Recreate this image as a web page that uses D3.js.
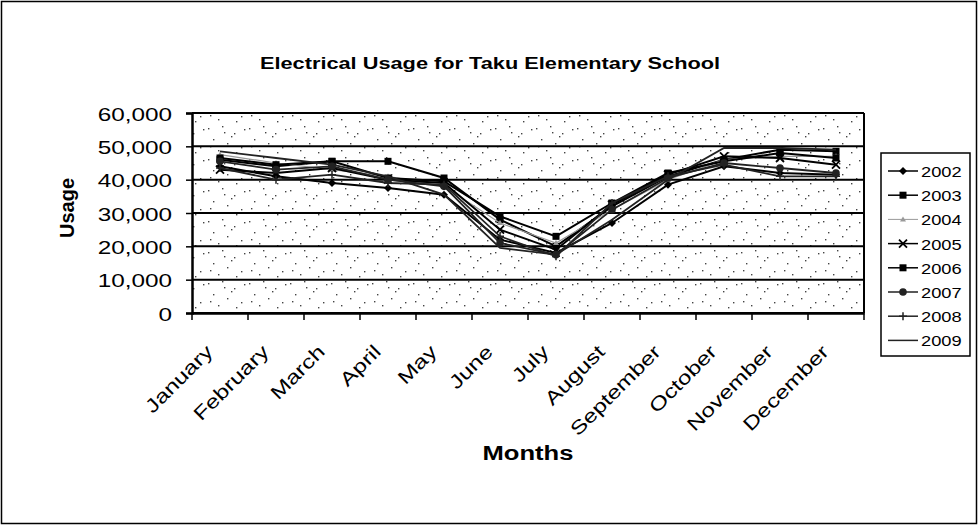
<!DOCTYPE html>
<html><head><meta charset="utf-8">
<script src="https://cdn.jsdelivr.net/npm/d3@7"></script>
<style>body{margin:0;background:#fff}svg{display:block}text{font-family:"Liberation Sans",Arial,sans-serif;fill:#000}</style>
</head><body>
<svg id="c" width="979" height="527"></svg>
<script>
const months = ["January","February","March","April","May","June","July","August","September","October","November","December"];
const years = ["2002","2003","2004","2005","2006","2007","2008","2009"];
const yTicks = [0,10000,20000,30000,40000,50000,60000];
const s2002 = [44000,41000,39000,37500,35500,22000,18000,27000,38500,44000,42000,41500];
const s2003 = [46000,44000,45500,45500,40500,28000,20000,32000,41000,46000,49000,48500];
const s2004 = [47500,45000,43000,41000,38000,27000,21000,31000,40000,46000,47000,47000];
const s2005 = [43000,42000,43500,40000,39000,25000,19000,32500,41500,47000,46500,44500];
const s2006 = [46500,44500,45500,40500,39500,29000,23000,33000,42000,45500,48000,46500];
const s2007 = [45500,43000,44000,40000,38000,21000,17500,31000,40500,45000,43500,42000];
const s2008 = [43500,40000,41500,39000,38500,23000,17000,33000,41000,44500,41000,41000];
const s2009 = [48500,46500,44500,41000,35500,19500,17500,28000,40000,49500,49500,49000];
const seriesValues = [s2002,s2003,s2004,s2005,s2006,s2007,s2008,s2009];
const markers = ["diamond","square","triangle","cross","square","circle","plus","none"];

const svg = d3.select("#c");
const L=192,R=864,T=113,B=313;
const x = d3.scaleBand().domain(months).range([L,R]);
const y = d3.scaleLinear().domain([0,60000]).range([B,T]);
const SX = 1.28;

// outer frame
svg.append("rect").attr("x",1.5).attr("y",1.5).attr("width",975).attr("height",522).attr("fill","#fff").attr("stroke","#000").attr("stroke-width",1.5);

// speckle pattern (decorative)
const defs = svg.append("defs");
const pat = defs.append("pattern").attr("id","spk").attr("patternUnits","userSpaceOnUse").attr("width",41).attr("height",31);
const dots = [[3,4],[17,2],[29,9],[8,15],[22,19],[36,23],[13,26],[31,28],[5,22],[26,12],[39,5],[19,8]];
dots.forEach(d=>pat.append("rect").attr("x",d[0]).attr("y",d[1]).attr("width",1.4).attr("height",1.4).attr("fill","#444"));
svg.append("rect").attr("x",L).attr("y",T).attr("width",R-L).attr("height",B-T).attr("fill","url(#spk)");

// gridlines
svg.append("g").selectAll("line").data(yTicks).join("line")
  .attr("x1",L).attr("x2",R).attr("y1",d=>y(d)).attr("y2",d=>y(d))
  .attr("stroke","#000").attr("stroke-width",2);
svg.append("line").attr("x1",R).attr("x2",R).attr("y1",T).attr("y2",B).attr("stroke","#000").attr("stroke-width",2);

// y axis
const ya = svg.append("g").attr("transform",`translate(${L},0)`).call(d3.axisLeft(y).tickValues(yTicks).tickSize(6).tickFormat(d3.format(",")));
ya.select(".domain").attr("stroke-width",2.5);
ya.selectAll("line").attr("stroke-width",1.5);
ya.selectAll("text").attr("font-size",19).attr("x",null).attr("dy",null).attr("text-anchor","end")
  .attr("transform",`translate(-20,7) scale(${SX},1)`);

// x axis
const xa = svg.append("g").attr("transform",`translate(0,${B})`).call(d3.axisBottom(x).tickSize(7).tickSizeOuter(0));
xa.select(".domain").attr("stroke-width",2.5);
xa.selectAll(".tick line").attr("stroke-width",1.5).attr("transform",`translate(${-x.bandwidth()/2},0)`);
xa.append("line").attr("x1",R).attr("x2",R).attr("y1",0).attr("y2",7).attr("stroke","#000").attr("stroke-width",1.5);
xa.selectAll(".tick text").attr("font-size",19).attr("text-anchor","end").attr("y",null).attr("dy",null)
  .attr("transform",`translate(-6,40) rotate(-45) scale(${SX},1)`);

// series
const line = d3.line().x((d,i)=>x(months[i])+x.bandwidth()/2).y(d=>y(d));
const colors = ["#000","#000","#999","#000","#000","#222","#222","#222"];
const widths = [2,2,1.2,2,2,1.8,1.8,1.8];
function marker(g,type,cx,cy,col){
  const s=4;
  if(type==="diamond") g.append("path").attr("d",`M${cx},${cy-s}L${cx+s},${cy}L${cx},${cy+s}L${cx-s},${cy}Z`).attr("fill",col);
  else if(type==="square") g.append("rect").attr("x",cx-3.5).attr("y",cy-3.5).attr("width",7).attr("height",7).attr("fill",col);
  else if(type==="triangle") g.append("path").attr("d",`M${cx},${cy-3}L${cx+3},${cy+2}L${cx-3},${cy+2}Z`).attr("fill",col);
  else if(type==="cross") g.append("path").attr("d",`M${cx-4},${cy-4}L${cx+4},${cy+4}M${cx-4},${cy+4}L${cx+4},${cy-4}`).attr("stroke",col).attr("stroke-width",1.8);
  else if(type==="circle") g.append("circle").attr("cx",cx).attr("cy",cy).attr("r",3.8).attr("fill",col);
  else if(type==="plus") g.append("path").attr("d",`M${cx-4},${cy}L${cx+4},${cy}M${cx},${cy-4}L${cx},${cy+4}`).attr("stroke",col).attr("stroke-width",1.5);
}
seriesValues.forEach((vals,k)=>{
  const g=svg.append("g");
  g.append("path").datum(vals).attr("d",line).attr("fill","none").attr("stroke",colors[k]).attr("stroke-width",widths[k]);
  vals.forEach((v,i)=>marker(g,markers[k],x(months[i])+x.bandwidth()/2,y(v),colors[k]));
});

// titles
svg.append("text").attr("text-anchor","middle").attr("font-weight","bold").attr("font-size",17)
  .attr("transform",`translate(490,69) scale(${SX},1)`).text("Electrical Usage for Taku Elementary School");
svg.append("text").attr("text-anchor","middle").attr("font-weight","bold").attr("font-size",20)
  .attr("transform",`translate(74,208) rotate(-90)`).text("Usage");
svg.append("text").attr("text-anchor","middle").attr("font-weight","bold").attr("font-size",20)
  .attr("transform",`translate(528,460) scale(${SX},1)`).text("Months");

// legend
const lg = svg.append("g");
lg.append("rect").attr("x",881).attr("y",153).attr("width",89).attr("height",203).attr("fill","#fff").attr("stroke","#000").attr("stroke-width",1.5);
years.forEach((yr,k)=>{
  const cy = 171 + k*24.2;
  lg.append("line").attr("x1",888).attr("x2",918).attr("y1",cy).attr("y2",cy).attr("stroke",colors[k]).attr("stroke-width",k===2?1:1.5);
  marker(lg,markers[k],903,cy,colors[k]);
  lg.append("text").attr("font-size",15.5).attr("transform",`translate(921,${cy+6}) scale(1.18,1)`).text(yr);
});
</script>
</body></html>
